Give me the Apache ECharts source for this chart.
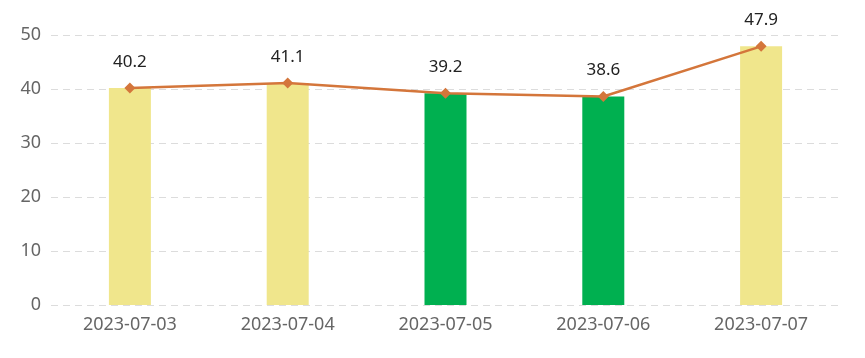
<!DOCTYPE html>
<html><head><meta charset="utf-8">
<script src="https://cdn.jsdelivr.net/npm/echarts@6/dist/echarts.min.js"></script>
<style>html,body{margin:0;padding:0;background:#fff}#c{width:865px;height:358px}</style>
</head><body><div id="c"></div>
<script>
const categories = ['2023-07-03','2023-07-04','2023-07-05','2023-07-06','2023-07-07'];
const values = [40.2, 41.1, 39.2, 38.6, 47.9];
const barColors = ['#F0E68C','#F0E68C','#00B050','#00B050','#F0E68C'];
const chart = echarts.init(document.getElementById('c'));
chart.setOption({
  animation:false,
  grid:{left:51,right:25,top:35,bottom:53},
  xAxis:{type:'category',data:categories,
    axisLine:{show:false},axisTick:{show:false},
    axisLabel:{color:'#666',fontSize:18,margin:11,fontFamily:'Noto Sans'}},
  yAxis:{type:'value',min:0,max:50,interval:10,
    axisLabel:{color:'#666',fontSize:18,margin:10,fontFamily:'Noto Sans'},
    splitLine:{lineStyle:{type:[7,5],color:'#dcdcdc',width:1}}},
  series:[
    {type:'bar',barWidth:42,data:values.map((v,i)=>({value:v,itemStyle:{color:barColors[i]}}))},
    {type:'line',data:values,symbol:'diamond',symbolSize:11,
     lineStyle:{color:'#D4763B',width:2.5},itemStyle:{color:'#D4763B'},
     label:{show:true,position:'top',distance:12,color:'#222',fontSize:17,fontFamily:'Noto Sans'}}
  ]
});
</script></body></html>
